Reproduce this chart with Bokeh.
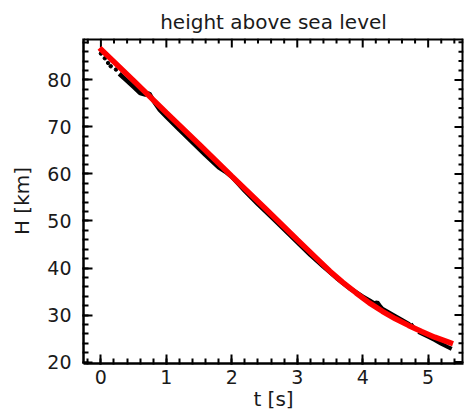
import numpy as np
from bokeh.plotting import figure
from bokeh.models import SingleIntervalTicker, Range1d
from bokeh.embed import file_html
from bokeh.resources import INLINE

# measured height (black)
t_dots = [0.00, 0.06, 0.11, 0.15, 0.23]
h_dots = [85.6, 84.6, 83.6, 82.9, 82.2]
t_meas = [0.28, 0.40, 0.50, 0.60, 0.68, 0.74, 0.80, 0.90, 1.00, 1.20, 1.40, 1.60,
          1.80, 1.90, 2.00, 2.10, 2.20, 2.40, 2.60, 2.80, 3.00, 3.20, 3.40, 3.60,
          3.80, 4.00, 4.10, 4.18, 4.22, 4.26, 4.30, 4.40, 4.50, 4.60, 4.70, 4.74, 4.78]
h_meas = [81.3, 79.8, 78.5, 77.2, 76.9, 77.1, 75.6, 73.6, 72.2, 69.4, 66.7, 64.0,
          61.4, 60.5, 59.4, 57.9, 56.4, 53.6, 50.9, 48.2, 45.5, 42.8, 40.3, 37.9,
          35.7, 33.9, 33.1, 32.4, 32.7, 31.9, 31.3, 30.5, 29.7, 28.9, 28.1, 27.6, 28.0]
t_meas_end = [4.85, 5.00, 5.10, 5.20, 5.30, 5.36]
h_meas_end = [26.4, 25.4, 24.7, 23.9, 23.2, 22.8]

# fitted curve (red)
t_fit = [-0.02, 0.0, 0.5, 1.0, 1.5, 2.0, 2.5, 3.0, 3.3, 3.5, 3.7, 3.9, 4.1, 4.3,
         4.5, 4.7, 4.9, 5.1, 5.3, 5.38]
h_fit = [86.8, 86.5, 79.8, 73.0, 66.3, 59.5, 52.8, 46.0, 42.0, 39.3, 36.9, 34.7,
         32.6, 30.8, 29.2, 27.8, 26.5, 25.3, 24.3, 23.9]

X0, X1 = -0.266, 5.54
Y0, Y1 = 19.7, 88.8
FW, FH = 380, 325

FONT = "DejaVu Sans"
TXT = "#1a1a1a"

p = figure(frame_width=FW, frame_height=FH, output_backend="svg", toolbar_location=None,
           x_range=Range1d(X0, X1), y_range=Range1d(Y0, Y1),
           title="height above sea level",
           min_border_left=83, min_border_right=7, min_border_top=38, min_border_bottom=51)
p.title.text_font = FONT
p.title.text_font_size = "20px"
p.title.text_font_style = "normal"
p.title.text_color = TXT
p.title.align = "center"

p.xgrid.grid_line_color = None
p.ygrid.grid_line_color = None
p.outline_line_color = None

p.xaxis.ticker = SingleIntervalTicker(interval=1, num_minor_ticks=5)
p.yaxis.ticker = SingleIntervalTicker(interval=10, num_minor_ticks=5)
p.xaxis.axis_label = "t [s]"
p.yaxis.axis_label = "H [km]"
for ax in (p.xaxis[0], p.yaxis[0]):
    ax.major_tick_in = 9
    ax.major_tick_out = 1
    ax.minor_tick_in = 5
    ax.minor_tick_out = 1
    ax.major_tick_line_color = "black"
    ax.minor_tick_line_color = "black"
    ax.major_tick_line_width = 2
    ax.minor_tick_line_width = 2
    ax.axis_line_color = "black"
    ax.axis_line_width = 2.5
    ax.major_label_text_font = FONT
    ax.major_label_text_font_size = "19px"
    ax.major_label_text_color = TXT
    ax.axis_label_text_font = FONT
    ax.axis_label_text_font_size = "20px"
    ax.axis_label_text_font_style = "normal"
    ax.axis_label_text_color = TXT
p.xaxis.major_label_standoff = 5
p.xaxis.axis_label_standoff = 0
p.yaxis.major_label_standoff = 11
p.yaxis.axis_label_standoff = 10

# top and right frame edges with inward ticks, drawn inside the frame
xmaj = [0.0, 1.0, 2.0, 3.0, 4.0, 5.0]
xmin = [float(v) for v in np.round(np.arange(-0.2, 5.5, 0.2), 2) if abs(v - round(v)) > 1e-6]
ymaj = [20.0, 30.0, 40.0, 50.0, 60.0, 70.0, 80.0]
ymin = [float(v) for v in np.arange(22, 89, 2.0) if v % 10 != 0]
px_x = (X1 - X0) / FW
px_y = (Y1 - Y0) / FH
MAJ, MIN = 9.0, 5.0

p.segment(x0=[X0, X1], y0=[Y1, Y0], x1=[X1, X1], y1=[Y1, Y1], line_color="black", line_width=4)
for xs, L in ((xmaj, MAJ), (xmin, MIN)):
    n = len(xs)
    p.segment(x0=xs, y0=[Y1] * n, x1=xs, y1=[Y1 - L * px_y] * n,
              line_color="black", line_width=2)
for ys, L in ((ymaj, MAJ), (ymin, MIN)):
    n = len(ys)
    p.segment(x0=[X1] * n, y0=ys, x1=[X1 - L * px_x] * n, y1=ys,
              line_color="black", line_width=2)

p.line(t_meas, h_meas, line_color="black", line_width=4.5)
p.line(t_meas_end, h_meas_end, line_color="black", line_width=4)
p.scatter(t_dots, h_dots, size=3.5, color="black")
p.line(t_fit, h_fit, line_color="red", line_width=5.5)

open("out.html", "w").write(file_html(p, INLINE))
